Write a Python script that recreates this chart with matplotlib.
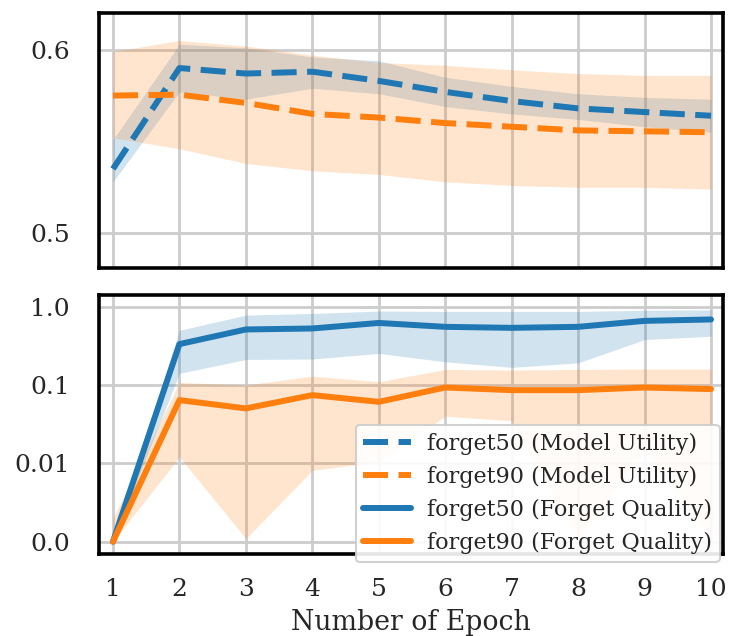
import matplotlib
matplotlib.use("Agg")
import matplotlib.pyplot as plt
from matplotlib.ticker import FixedLocator, FixedFormatter, NullLocator

plt.rcParams['font.family'] = ['DejaVu Serif']

epochs = [1, 2, 3, 4, 5, 6, 7, 8, 9, 10]

# Model utility (top)
mu50 = [0.535, 0.590, 0.587, 0.588, 0.583, 0.577, 0.572, 0.568, 0.566, 0.564]
mu50_lo = [0.528, 0.577, 0.573, 0.579, 0.576, 0.569, 0.565, 0.562, 0.558, 0.555]
mu50_hi = [0.551, 0.603, 0.601, 0.596, 0.594, 0.585, 0.580, 0.576, 0.574, 0.573]
mu90 = [0.575, 0.5755, 0.571, 0.565, 0.563, 0.560, 0.558, 0.556, 0.5555, 0.555]
mu90_lo = [0.552, 0.546, 0.538, 0.534, 0.532, 0.528, 0.526, 0.525, 0.525, 0.524]
mu90_hi = [0.599, 0.605, 0.602, 0.597, 0.593, 0.5915, 0.589, 0.587, 0.586, 0.586]

# Forget quality (bottom)
fq50 = [0.0, 0.333, 0.512, 0.527, 0.62, 0.553, 0.537, 0.553, 0.659, 0.687]
fq50_lo = [0.0, 0.141, 0.212, 0.215, 0.253, 0.198, 0.168, 0.192, 0.38, 0.42]
fq50_hi = [0.0, 0.50, 0.78, 0.82, 0.88, 0.87, 0.87, 0.87, 0.90, 0.91]
fq90 = [0.0, 0.0642, 0.0503, 0.0743, 0.061, 0.093, 0.086, 0.086, 0.093, 0.0887]
fq90_lo = [0.0, 0.0121, 0.0004, 0.0091, 0.0105, 0.04, 0.035, 0.0003, 0.0148, 0.0003]
fq90_hi = [0.003, 0.108, 0.10, 0.13, 0.11, 0.158, 0.155, 0.158, 0.16, 0.16]

labels = ["forget50 (Model Utility)", "forget90 (Model Utility)",
          "forget50 (Forget Quality)", "forget90 (Forget Quality)"]
yticks_fq = [0.0, 0.01, 0.1, 1.0]
yticklabels_fq = ["0.0", "0.01", "0.1", "1.0"]
yticks_mu = [0.5, 0.6]
yticklabels_mu = ["0.5", "0.6"]
xlabel = "Number of Epoch"

C50 = '#1f77b4'
C90 = '#ff7f0e'

fig = plt.figure(figsize=(7.29, 6.36), dpi=100)
ax1 = fig.add_axes([99/729, 1-268/636, 624/729, 255/636])
ax2 = fig.add_axes([99/729, 1-554/636, 624/729, 259/636], sharex=ax1)

lw = 4.3
for ax in (ax1, ax2):
    ax.set_axisbelow(True)
    ax.grid(True, color='#cccccc', linewidth=2.0)
    for s in ax.spines.values():
        s.set_color('black')
        s.set_linewidth(2.6)
    ax.tick_params(length=0, labelsize=18, colors='#262626')
    ax.tick_params(axis='y', pad=21)
    ax.tick_params(axis='x', pad=17)

# top
ax1.fill_between(epochs, mu50_lo, mu50_hi, color=C50, alpha=0.2, linewidth=0)
ax1.fill_between(epochs, mu90_lo, mu90_hi, color=C90, alpha=0.2, linewidth=0)
l1, = ax1.plot(epochs, mu50, color=C50, lw=lw, ls=(0, (4.2, 1.75)), label=labels[0])
l2, = ax1.plot(epochs, mu90, color=C90, lw=lw, ls=(0, (4.2, 1.75)), label=labels[1])
ax1.set_ylim(0.481, 0.62)
ax1.yaxis.set_major_locator(FixedLocator(yticks_mu))
ax1.yaxis.set_major_formatter(FixedFormatter(yticklabels_mu))
plt.setp(ax1.get_xticklabels(), visible=False)

# bottom
ax2.set_yscale('symlog', linthresh=0.01, linscale=0.9)
ax2.fill_between(epochs, fq50_lo, fq50_hi, color=C50, alpha=0.2, linewidth=0)
ax2.fill_between(epochs, fq90_lo, fq90_hi, color=C90, alpha=0.2, linewidth=0)
l3, = ax2.plot(epochs, fq50, color=C50, lw=lw, label=labels[2], solid_capstyle='round')
l4, = ax2.plot(epochs, fq90, color=C90, lw=lw, label=labels[3], solid_capstyle='round')
ax2.set_ylim(-0.00157, 1.41)
ax2.yaxis.set_major_locator(FixedLocator(yticks_fq))
ax2.yaxis.set_major_formatter(FixedFormatter(yticklabels_fq))
ax2.yaxis.set_minor_locator(NullLocator())
ax2.set_xlim(0.79, 10.18)
ax2.set_xticks(epochs)
ax2.set_xticklabels([str(e) for e in epochs])
ax2.set_xlabel(xlabel, fontsize=19.3, color='#262626', labelpad=6)

leg = ax2.legend(handles=[l1, l2, l3, l4], loc='lower right',
                 bbox_to_anchor=(0.995, -0.031), borderaxespad=0,
                 fontsize=16, handlelength=2.15, handletextpad=0.72,
                 labelspacing=0.5, framealpha=0.9, edgecolor='#cccccc',
                 borderpad=0.35, fancybox=True)
leg.get_frame().set_linewidth(1.5)
for t in leg.get_texts():
    t.set_color('#262626')
leg.set_zorder(10)

fig.savefig('out.png', dpi=100)
